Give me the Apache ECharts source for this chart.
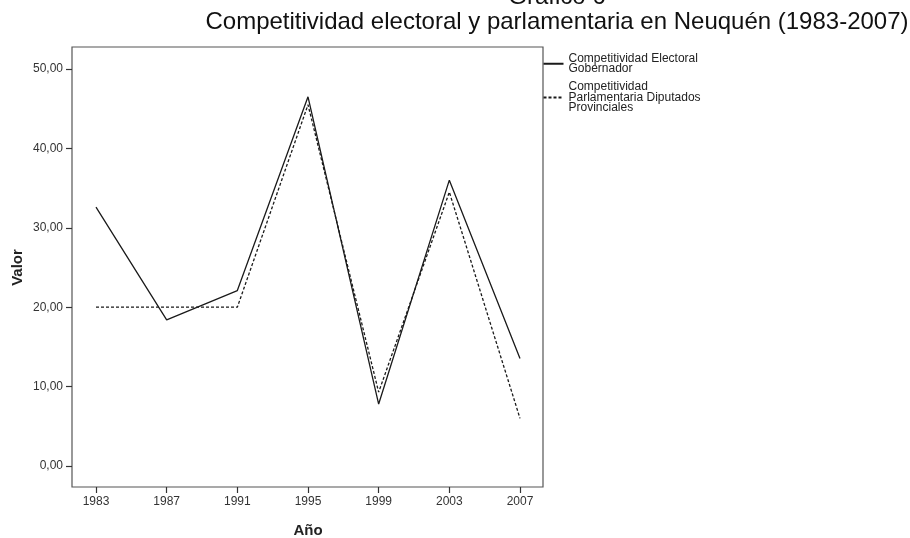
<!DOCTYPE html>
<html>
<head>
<meta charset="utf-8">
<script src="https://cdn.jsdelivr.net/npm/echarts@6/dist/echarts.min.js"></script>
<style>html,body{margin:0;padding:0;background:#fff}#c{width:910px;height:538px}</style>
</head>
<body>
<div id="c"></div>
<script>
var years = ['1983', '1987', '1991', '1995', '1999', '2003', '2007'];
var gobernador = [32.6, 18.4, 22.1, 46.5, 7.8, 36.0, 13.55];
var diputados = [20.0, 20.0, 20.0, 45.5, 9.3, 34.5, 6.0];
var seriesNames = ['Competitividad Electoral Gobernador', 'Competitividad Parlamentaria Diputados Provinciales'];
var legendLabels = ['Competitividad Electoral\nGobernador', 'Competitividad\nParlamentaria Diputados\nProvinciales'];
var titleLines = ['Gráfico 6', 'Competitividad electoral y parlamentaria en Neuquén (1983-2007)'];
var yName = 'Valor';
var xName = 'Año';

var FONT = '"Liberation Sans", Arial, sans-serif';
var chart = echarts.init(document.getElementById('c'), null, {renderer: 'canvas'});
chart.setOption({
  animation: false,
  backgroundColor: '#fff',
  graphic: [
    {type: 'text', x: 557, y: -3, style: {text: titleLines[0], font: '24px ' + FONT, fill: '#111', textAlign: 'center', textVerticalAlign: 'middle'}},
    {type: 'text', x: 557, y: 22, style: {text: titleLines[1], font: '24px ' + FONT, fill: '#111', textAlign: 'center', textVerticalAlign: 'middle'}}
  ],
  legend: {
    orient: 'vertical',
    left: 542.5, top: 52.5,
    padding: 0,
    itemGap: 6,
    itemWidth: 20, itemHeight: 10,
    data: seriesNames,
    itemStyle: {opacity: 0},
    formatter: function (n) { return legendLabels[seriesNames.indexOf(n)]; },
    textStyle: {fontFamily: FONT, fontSize: 12, lineHeight: 10.5, color: '#222'}
  },
  grid: [
    {left: 72, right: 367, top: 47, bottom: 51, show: true, borderColor: '#555', borderWidth: 1.2, backgroundColor: '#fff', outerBoundsMode: 'none', containLabel: false},
    {left: 96, right: 390, top: 69, bottom: 72, outerBoundsMode: 'none', containLabel: false},
    {left: 96, right: 390, top: 47, bottom: 51, outerBoundsMode: 'none', containLabel: false}
  ],
  xAxis: [
    {gridIndex: 0, type: 'value', show: false, min: 0, max: 1},
    {gridIndex: 1, type: 'category', data: years, boundaryGap: false, show: false},
    {gridIndex: 2, type: 'category', data: years, boundaryGap: false,
     axisLine: {show: false},
     axisTick: {show: true, inside: false, length: 6, lineStyle: {color: '#333', width: 1.2}},
     axisLabel: {margin: 9, fontFamily: FONT, fontSize: 12, color: '#333'},
     name: xName, nameLocation: 'middle', nameGap: 36,
     nameTextStyle: {fontFamily: FONT, fontSize: 15, fontWeight: 'bold', color: '#222'},
     splitLine: {show: false}}
  ],
  yAxis: [
    {gridIndex: 0, type: 'value', show: false, min: 0, max: 1},
    {gridIndex: 1, type: 'value', min: 0, max: 50, interval: 10, offset: 24,
     axisLine: {show: false},
     axisTick: {show: true, length: 6, lineStyle: {color: '#333', width: 1.2}},
     axisLabel: {margin: 9, fontFamily: FONT, fontSize: 12, color: '#333',
       formatter: function (v) { return v.toFixed(2).replace('.', ','); }},
     name: yName, nameLocation: 'middle', nameGap: 47, nameRotate: 90,
     nameTextStyle: {fontFamily: FONT, fontSize: 15, fontWeight: 'bold', color: '#222'},
     splitLine: {show: false}},
    {gridIndex: 2, type: 'value', show: false, min: 0, max: 1}
  ],
  series: [
    {name: seriesNames[0], type: 'line', xAxisIndex: 1, yAxisIndex: 1, data: gobernador,
     symbol: 'none', lineStyle: {color: '#1a1a1a', width: 1.3, type: 'solid'}, itemStyle: {color: '#1a1a1a'}},
    {name: seriesNames[1], type: 'line', xAxisIndex: 1, yAxisIndex: 1, data: diputados,
     symbol: 'none', lineStyle: {color: '#1a1a1a', width: 1.3, type: [3, 2]}, itemStyle: {color: '#1a1a1a'}}
  ]
});
</script>
</body>
</html>
